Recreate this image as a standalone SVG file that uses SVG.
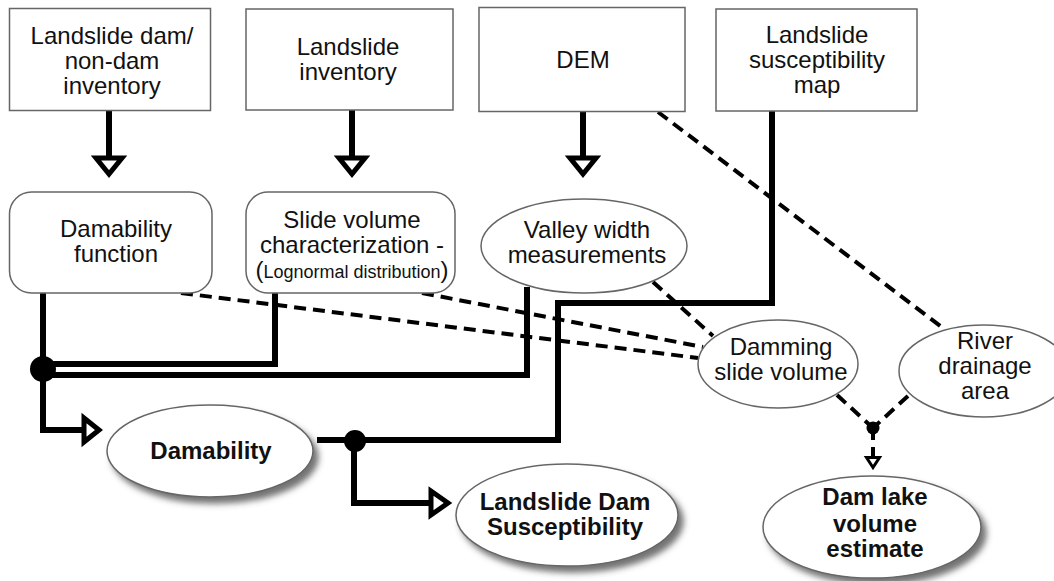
<svg xmlns="http://www.w3.org/2000/svg" width="1054" height="581" viewBox="0 0 1054 581">
<defs>
<filter id="sh" x="-20%" y="-20%" width="150%" height="150%">
<feDropShadow dx="5" dy="6" stdDeviation="3" flood-color="#444" flood-opacity="0.75"/>
</filter>
</defs>
<style>
text{font-family:"Liberation Sans",Arial,sans-serif;font-size:24px;fill:#111;text-anchor:middle}
.b{font-weight:bold}
.box{fill:#fff;stroke:#666;stroke-width:1.5}
.ell{fill:#fff;stroke:#666;stroke-width:1.5}
.s{fill:none;stroke:#000;stroke-width:6;stroke-linejoin:miter;stroke-linecap:butt}
.d{fill:none;stroke:#000;stroke-width:4;stroke-dasharray:12 7}
.ah{fill:#fff;stroke:#000;stroke-width:5;stroke-linejoin:miter}
.ahs{fill:#fff;stroke:#000;stroke-width:3;stroke-linejoin:miter}
.dot{fill:#000}
</style>
<rect width="1054" height="581" fill="#fff"/>

<g id="connectors">
<path class="d" d="M181,293 L698,358"/>
<path class="d" d="M422,293 L703,347"/>
<path class="d" d="M653,282 L713,336"/>
<path class="d" d="M658,112 L943,328"/>
<path class="d" d="M837,395 L873,428"/>
<path class="d" d="M908,396 L873,428"/>
<path class="d" d="M873,428 L873,456"/>
<path class="s" d="M109,110 L109,157"/>
<path class="s" d="M352,110 L352,157"/>
<path class="s" d="M583,111 L583,157"/>
<path class="s" d="M43,293 L43,430 L83,430"/>
<path class="s" d="M275,293 L275,364 L43,364"/>
<path class="s" d="M527,287 L527,375 L43,375"/>
<path class="s" d="M772,111 L772,303 L558,303 L558,440 L317,440"/>
<path class="s" d="M354,440 L354,503 L430,503"/>
<circle class="dot" cx="43" cy="369" r="13"/>
<circle class="dot" cx="355" cy="441" r="11"/>
<circle class="dot" cx="873" cy="428" r="6.5"/>
<polygon class="ah" points="96,158 122,158 109,174"/>
<polygon class="ah" points="339,158 365,158 352,174"/>
<polygon class="ah" points="570,158 596,158 583,174"/>
<polygon class="ah" points="84,418 84,442 99,430"/>
<polygon class="ah" points="431,491 431,515 448,503"/>
<polygon class="ahs" points="866.5,457.5 879.5,457.5 873,467.5"/>
</g>

<g id="n-dam-inventory">
<rect class="box" x="9.5" y="8.5" width="201" height="102"/>
<text x="112" y="44">Landslide dam/</text>
<text x="112" y="69">non-dam</text>
<text x="112" y="94">inventory</text>
</g>
<g id="n-landslide-inventory">
<rect class="box" x="246" y="9" width="207" height="101"/>
<text x="348" y="55">Landslide</text>
<text x="348" y="80">inventory</text>
</g>
<g id="n-dem">
<rect class="box" x="479" y="7.5" width="206" height="104"/>
<text x="583" y="68">DEM</text>
</g>
<g id="n-susc-map">
<rect class="box" x="716" y="9" width="201" height="102"/>
<text x="817" y="43">Landslide</text>
<text x="817" y="68">susceptibility</text>
<text x="817" y="93">map</text>
</g>
<g id="n-damability-function">
<rect class="box" x="9.5" y="192" width="202.5" height="101" rx="22"/>
<text x="116" y="237">Damability</text>
<text x="116" y="262">function</text>
</g>
<g id="n-slide-volume">
<rect class="box" x="246" y="192" width="209" height="101" rx="22"/>
<text x="352" y="228">Slide volume</text>
<text x="352" y="253">characterization -</text>
<text x="352" y="278"><tspan>(</tspan><tspan style="font-size:18px">Lognormal distribution</tspan><tspan>)</tspan></text>
</g>
<g id="n-valley">
<ellipse class="ell" cx="584" cy="246" rx="103" ry="47"/>
<text x="587" y="238">Valley width</text>
<text x="587" y="263">measurements</text>
</g>
<g id="n-damming">
<ellipse class="ell" cx="778" cy="364" rx="80" ry="44"/>
<text x="781" y="355">Damming</text>
<text x="781" y="380">slide volume</text>
</g>
<g id="n-river">
<ellipse class="ell" cx="984" cy="371" rx="85" ry="46"/>
<text x="985" y="349">River</text>
<text x="985" y="374">drainage</text>
<text x="985" y="399">area</text>
</g>
<g id="n-damability">
<ellipse class="ell" cx="210" cy="451" rx="103" ry="46" filter="url(#sh)"/>
<text class="b" x="211" y="459">Damability</text>
</g>
<g id="n-ldsusc">
<ellipse class="ell" cx="567" cy="515" rx="111" ry="51" filter="url(#sh)"/>
<text class="b" x="565" y="510">Landslide Dam</text>
<text class="b" x="565" y="535">Susceptibility</text>
</g>
<g id="n-damlake">
<ellipse class="ell" cx="872" cy="527" rx="109" ry="51" filter="url(#sh)"/>
<text class="b" x="875" y="505">Dam lake</text>
<text class="b" x="875" y="532">volume</text>
<text class="b" x="875" y="557">estimate</text>
</g>
</svg>
